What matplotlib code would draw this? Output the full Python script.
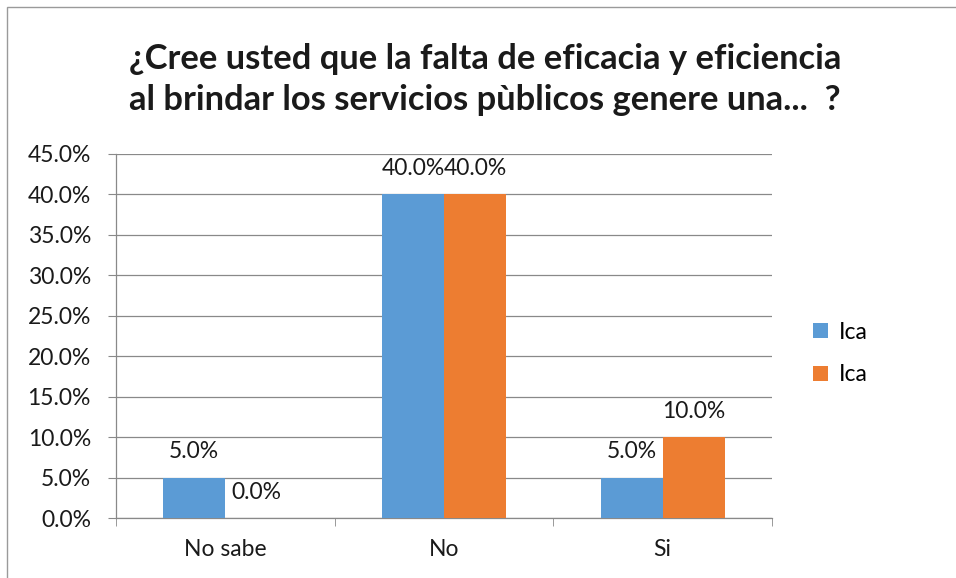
import matplotlib
matplotlib.use("Agg")
import matplotlib.pyplot as plt
import matplotlib.patches as patches
import numpy as np

plt.rcParams['font.family'] = ['Lato', 'DejaVu Sans']

# Data
categories = ["No sabe", "No", "Si"]
serie_1 = [5.0, 40.0, 5.0]
serie_2 = [0.0, 40.0, 10.0]
series_names = ["Ica", "Ica"]
title = "¿Cree usted que la falta de eficacia y eficiencia\nal brindar los servicios pùblicos genere una...  ?"

blue = "#5B9BD5"
orange = "#ED7D31"
grid_col = "#898989"
txt = "#1a1a1a"
fs = 16.5

fig = plt.figure(figsize=(9.56, 5.78), dpi=100)
ax = fig.add_axes([0.1213, 0.1038, 0.6862, 0.6298])

x = np.arange(len(categories))
w = 0.284
b1 = ax.bar(x - w / 2, serie_1, w, color=blue, label=series_names[0], zorder=3)
b2 = ax.bar(x + w / 2, serie_2, w, color=orange, label=series_names[1], zorder=3)

for bars, vals in ((b1, serie_1), (b2, serie_2)):
    for rect, v in zip(bars, vals):
        ax.annotate(f"{v:.1f}%", (rect.get_x() + rect.get_width() / 2, v),
                    xytext=(0, 18.5), textcoords="offset points",
                    ha="center", va="center", fontsize=fs, color=txt)

ax.set_xlim(-0.5, 2.5)
ax.set_ylim(0, 45)
yt = np.arange(0, 46, 5)
ax.set_yticks(yt)
ax.set_yticklabels([f"{v:.1f}%" for v in yt], fontsize=fs, color=txt)
ax.set_xticks(x)
ax.set_xticklabels(categories, fontsize=fs, color=txt)
ax.set_xticks([-0.5, 0.5, 1.5, 2.5], minor=True)
ax.tick_params(axis="x", which="major", length=0, pad=15)
ax.tick_params(axis="x", which="minor", length=6, color=grid_col, direction="out")
ax.tick_params(axis="y", length=6, color=grid_col, pad=12)

ax.yaxis.grid(True, color=grid_col, linewidth=0.9, zorder=0)
for s in ("top", "right"):
    ax.spines[s].set_visible(False)
for s in ("left", "bottom"):
    ax.spines[s].set_color(grid_col)
    ax.spines[s].set_linewidth(0.9)

ax.legend(loc="center left", bbox_to_anchor=(1.045, 0.452), frameon=False,
          fontsize=fs, handlelength=0.67, handleheight=0.67,
          handletextpad=0.45, labelspacing=0.95, borderpad=0)

fig.text(0.507, 0.8625, title, ha="center", va="center", fontsize=24.8,
         fontweight="bold", linespacing=1.32, color=txt)

# outer chart border
fig.add_artist(patches.Rectangle((7 / 956, -0.05), 1.1, 1 - 7 / 578 + 0.05,
                                 transform=fig.transFigure, fill=False,
                                 edgecolor="#9a9a9a", linewidth=1))

fig.savefig("out.png", dpi=100)
